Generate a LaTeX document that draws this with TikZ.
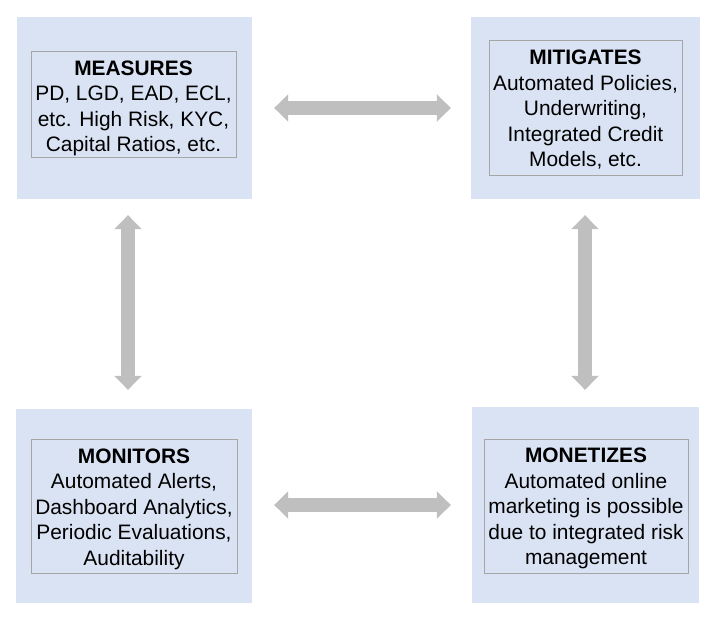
\documentclass[tikz,border=0pt]{standalone}
\usepackage{fontspec}
\setmainfont{Liberation Sans}
\usetikzlibrary{arrows.meta}
\definecolor{outerfill}{HTML}{DAE3F3}
\definecolor{innerline}{HTML}{A6A6A6}
\definecolor{arrowgray}{HTML}{BFBFBF}
\tikzset{
  outerbox/.style={draw=none, fill=outerfill, inner sep=0pt},
  innerbox/.style={draw=innerline, line width=1pt, inner sep=0pt},
  textblock/.style={inner sep=0pt, align=center, font=\fontsize{20.9}{25.5}\selectfont},
  twoway/.style={draw=arrowgray, line width=14pt,
    {Triangle[width=27pt,length=14pt,fill=arrowgray]}-{Triangle[width=27pt,length=14pt,fill=arrowgray]}}
}
\begin{document}
\begin{tikzpicture}[x=1pt,y=-1pt]
\useasboundingbox (0,0) rectangle (716,618);
% outer panels
\node[outerbox, minimum width=235pt, minimum height=182pt] (tl) at (134.5,108) {};
\node[outerbox, minimum width=229pt, minimum height=182pt] (tr) at (585.5,108) {};
\node[outerbox, minimum width=236pt, minimum height=194pt] (bl) at (134,506) {};
\node[outerbox, minimum width=227pt, minimum height=196pt] (br) at (585.5,505) {};
% inner frames
\node[innerbox, minimum width=205pt, minimum height=106pt] (tlt) at (133.5,105) {};
\node[innerbox, minimum width=193pt, minimum height=134pt] (trt) at (585.5,108) {};
\node[innerbox, minimum width=206pt, minimum height=134pt] (blt) at (134,506) {};
\node[innerbox, minimum width=204pt, minimum height=134pt] (brt) at (586,506) {};
% texts
\node[textblock] (tlx) at ([yshift=-3.5pt]tlt.center)
  {\textbf{MEASURES}\\PD, LGD, EAD, ECL,\\etc. High Risk, KYC,\\Capital Ratios, etc.};
\node[textblock] (trx) at ([yshift=-2pt]trt.center)
  {\textbf{MITIGATES}\\Automated Policies,\\Underwriting,\\Integrated Credit\\Models, etc.};
\node[textblock] (blx) at ([yshift=-3pt]blt.center)
  {\textbf{MONITORS}\\Automated Alerts,\\Dashboard Analytics,\\Periodic Evaluations,\\Auditability};
\node[textblock] (brx) at ([yshift=-2.5pt]brt.center)
  {\textbf{MONETIZES}\\Automated online\\marketing is possible\\due to integrated risk\\management};
% connectors
\draw[twoway, shorten <=22pt, shorten >=20pt] (tl.east) -- (tr.west);
\draw[twoway, shorten <=22pt, shorten >=21pt] ([yshift=1pt]bl.east) -- ([yshift=1pt]bl.east -| br.west);
\draw[twoway, shorten <=16pt, shorten >=19pt] ([xshift=-6.5pt]tl.south) -- ([xshift=-6pt]bl.north);
\draw[twoway, shorten <=16pt, shorten >=17pt] ([xshift=-0.5pt]tr.south) -- ([xshift=-0.5pt]br.north);
\end{tikzpicture}
\end{document}
